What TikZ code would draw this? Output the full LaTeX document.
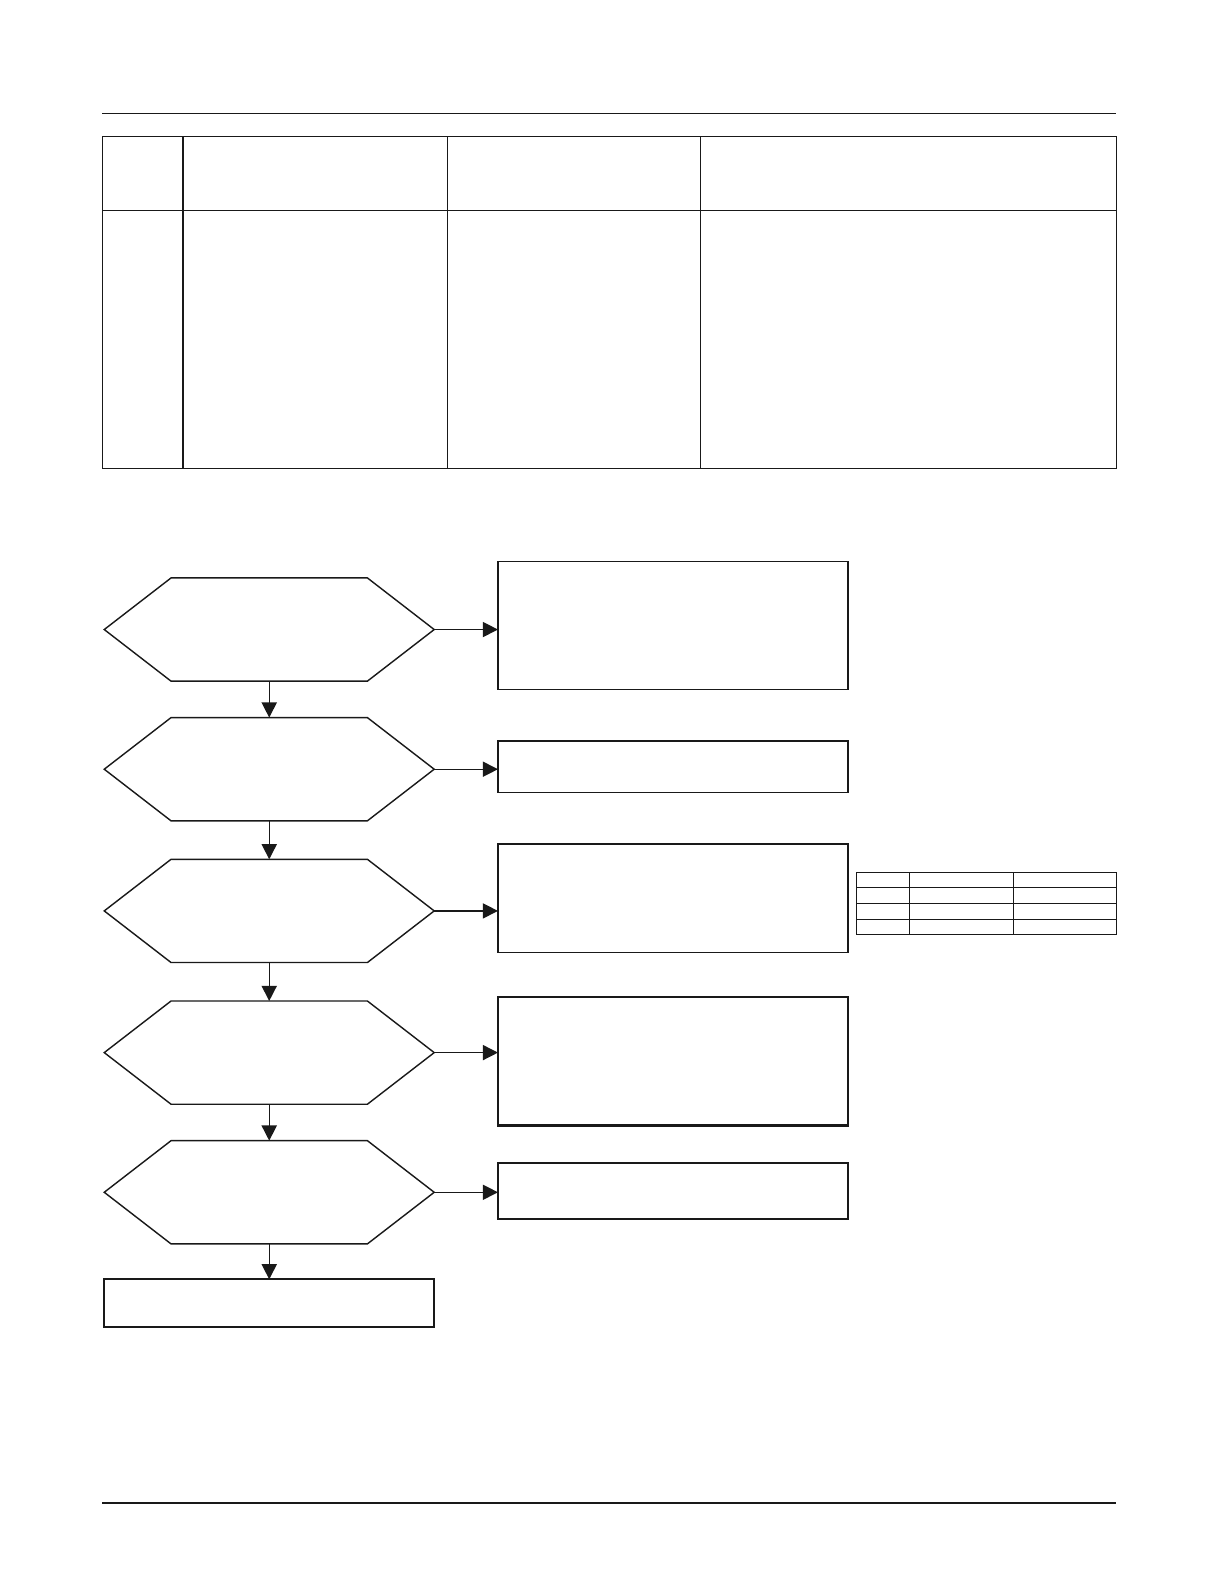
\documentclass[tikz,border=0pt]{standalone}
\usetikzlibrary{arrows.meta,calc}
\begin{document}
\begin{tikzpicture}[x=0.5pt,y=-0.5pt,
  ln/.style={line width=0.7pt,draw=black!90},
  hexbox/.style={draw=none,minimum width=163pt,minimum height=51pt,inner sep=0pt,outer sep=0pt},
  rbox/.style={draw=black!90,line width=0.75pt,minimum width=173pt,inner sep=0pt,outer sep=0pt},
  endbox/.style={draw=black!90,line width=1pt,minimum width=163pt,minimum height=23.5pt,inner sep=0pt,outer sep=0pt},
  arr/.style={line width=0.7pt,draw=black!90,-{Triangle[length=7.5pt,width=7.5pt]}},
  thin/.style={line width=0.5pt,draw=black!90}]
\useasboundingbox (0,0) rectangle (1204,1568);
% rules
\draw[ln] (101,112) -- (1103,112);
\draw[ln] (101,1485) -- (1103,1485);
% top table
\draw[ln] (101,135) rectangle (1103,463);
\draw[ln] (101,208) -- (1103,208);
\foreach \x in {181,442,692} \draw[ln] (\x,135) -- (\x,463);
% hexagon nodes
\foreach \n/\y in {h1/622,h2/760,h3/900,h4/1040,h5/1178}{
  \node[hexbox] (\n) at (266,\y) {};
  \draw[ln] (\n.west) -- ($(\n.north west)+(33pt,0)$) -- ($(\n.north east)+(-33pt,0)$) -- (\n.east)
    -- ($(\n.south east)+(-33pt,0)$) -- ($(\n.south west)+(33pt,0)$) -- cycle;
}
% right boxes
\node[rbox,minimum height=63pt] (b1) at (665,618) {};
\node[rbox,minimum height=25.5pt] (b2) at (665,757.5) {};
\node[rbox,minimum height=53.5pt] (b3) at (665,887.5) {};
\node[rbox,minimum height=63.5pt,line width=1pt] (b4) at (665,1048.5) {};
\node[rbox,minimum height=27.5pt,line width=0.9pt] (b5) at (665,1176.5) {};
% end box
\node[endbox] (e) at (266,1287.5) {};
% vertical arrows
\draw[arr] (h1.south) -- (h2.north);
\draw[arr] (h2.south) -- (h3.north);
\draw[arr] (h3.south) -- (h4.north);
\draw[arr] (h4.south) -- (h5.north);
\draw[arr] (h5.south) -- (e.north);
% horizontal arrows
\foreach \i in {1,...,5} \draw[arr] (h\i.east) -- (h\i.east -| b\i.west);
% small table
\draw[thin] (846,862) rectangle (1103,923);
\foreach \y in {877,893,908} \draw[thin] (846,\y) -- (1103,\y);
\foreach \x in {899,1001} \draw[thin] (\x,862) -- (\x,923);
\end{tikzpicture}
\end{document}
